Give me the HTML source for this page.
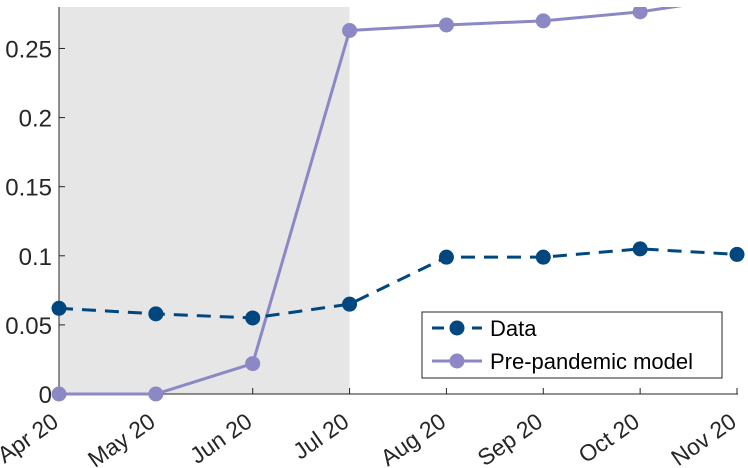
<!DOCTYPE html>
<html><head><meta charset="utf-8"><style>body{margin:0;background:#fff}svg{display:block;font-family:"Liberation Sans",sans-serif}</style></head>
<body>
<svg id="c" width="748" height="468"></svg>
<script>
const categories=["Apr 20","May 20","Jun 20","Jul 20","Aug 20","Sep 20","Oct 20","Nov 20"];
const dataValues=[0.062,0.058,0.055,0.065,0.099,0.099,0.105,0.101];
const modelValues=[0,0,0.022,0.263,0.267,0.270,0.2765,0.287];
const yTicks=[0,0.05,0.1,0.15,0.2,0.25];
const yTickLabels=["0","0.05","0.1","0.15","0.2","0.25"];
const shadeRange=[0,3];
const L=59,R=737,T=7,B=394,YMAX=0.28;
const x=i=>L+(R-L)*i/(categories.length-1);
const y=v=>B-(B-T)*v/YMAX;
const NS="http://www.w3.org/2000/svg",svg=document.getElementById('c');
function mk(t,a,p){const e=document.createElementNS(NS,t);for(const k in a)e.setAttribute(k,a[k]);(p||svg).appendChild(e);return e;}
const defs=mk('defs',{});const cp=mk('clipPath',{id:'clip'},defs);mk('rect',{x:0,y:T,width:748,height:B-T+20},cp);
const sh=mk('rect',{x:x(shadeRange[0]),y:T,width:x(shadeRange[1])-x(shadeRange[0]),height:B-T,fill:'#e6e6e6'});


const ax=mk('path',{d:`M${L},${T}V${B}H${R+1}`,stroke:'#262626','stroke-width':1,fill:'none'});


yTicks.forEach((v,i)=>{mk('line',{x1:L,x2:L+6,y1:y(v),y2:y(v),stroke:'#262626'});
const t=mk('text',{x:L-7,y:y(v)+9,'text-anchor':'end','font-size':24,fill:'#262626'});t.textContent=yTickLabels[i];

});
categories.forEach((c,i)=>{mk('line',{x1:x(i),x2:x(i),y1:B,y2:B-6,stroke:'#262626'});
const t=mk('text',{transform:`translate(${x(i)+1},${B+31}) rotate(-35)`,'text-anchor':'end','font-size':23,fill:'#262626'});t.textContent=c;

});
const g=mk('g',{'clip-path':'url(#clip)'});
function series(vals,col,dash,name){
const p=mk('polyline',{points:vals.map((v,i)=>x(i)+','+y(v)).join(' '),fill:'none',stroke:col,'stroke-width':3,'stroke-dasharray':dash},g);


vals.forEach((v,i)=>{if(v>YMAX)return;const m=mk('circle',{cx:x(i),cy:y(v),r:7.5,fill:col},g);

});}
series(modelValues,'#8c88c6','none','model');
series(dataValues,'#00467f','14 9','data');
const lg=mk('g',{});
mk('rect',{x:422,y:312,width:300,height:66,fill:'#fff',stroke:'#262626'},lg);
mk('line',{x1:432,x2:482,y1:328,y2:328,stroke:'#00467f','stroke-width':3,'stroke-dasharray':'12 8'},lg);
mk('circle',{cx:457,cy:328,r:7.5,fill:'#00467f'},lg);
mk('line',{x1:432,x2:482,y1:361,y2:361,stroke:'#8c88c6','stroke-width':3},lg);
mk('circle',{cx:457,cy:361,r:7.5,fill:'#8c88c6'},lg);
let t=mk('text',{x:490,y:336,'font-size':22,fill:'#000'},lg);t.textContent='Data';
t=mk('text',{x:490,y:369,'font-size':22,fill:'#000'},lg);t.textContent='Pre-pandemic model';
</script>
</body></html>
